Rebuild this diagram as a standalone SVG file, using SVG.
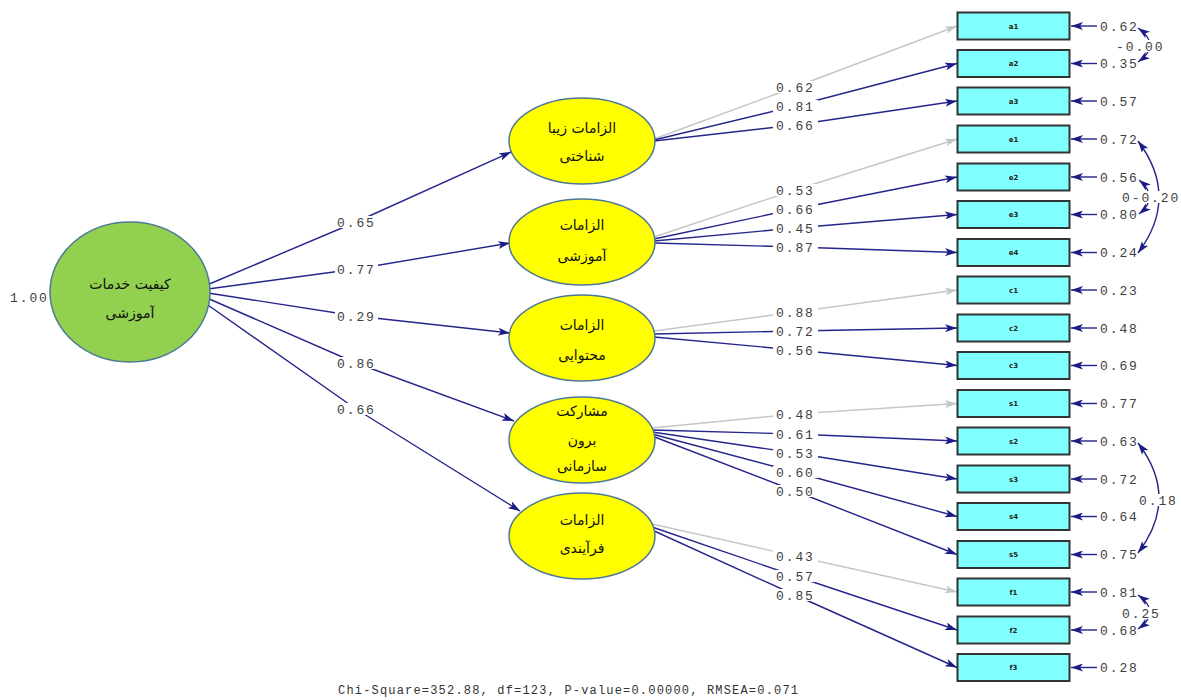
<svg xmlns="http://www.w3.org/2000/svg" width="1181" height="700" viewBox="0 0 1181 700">
<style>
.bg{fill:#ffffff}
.ln{fill:none;stroke:#25258c;stroke-width:1.4}
.lg{fill:none;stroke:#c6c6c6;stroke-width:1.4}
.num{font-family:"Liberation Mono",monospace;font-size:13px;fill:#3e3e3e;letter-spacing:1.9px}
.lbg{fill:#ffffff}
.box{fill:#80ffff;stroke:#333333;stroke-width:2}
.bl{font-family:"DejaVu Sans",sans-serif;font-size:7px;font-weight:bold;fill:#222;text-anchor:middle}
.lat{fill:#ffff00;stroke:#4d7896;stroke-width:1.5}
.gr{fill:#92d050;stroke:#4d7896;stroke-width:1.5}
.fa{font-family:"DejaVu Sans",sans-serif;font-size:14px;fill:#111;text-anchor:middle}
.foot{font-family:"Liberation Mono",monospace;font-size:12px;fill:#333}
</style>
<defs>
<marker id="ah" markerUnits="userSpaceOnUse" markerWidth="12" markerHeight="8" refX="12" refY="4" orient="auto-start-reverse">
<path d="M0,0 L12,4 L0,8 L3,4 z" fill="#1c1c86"/>
</marker>
<marker id="ahg" markerUnits="userSpaceOnUse" markerWidth="12" markerHeight="8" refX="12" refY="4" orient="auto">
<path d="M0,0 L12,4 L0,8 L3,4 z" fill="#c6c6c6"/>
</marker>
</defs>
<rect class="bg" x="0" y="0" width="1181" height="700"/>

<g id="connectors">
<!-- structural paths -->
<path class="ln" marker-end="url(#ah)" d="M207 285 L356 222 L511 152"/>
<path class="ln" marker-end="url(#ah)" d="M208 289 L356 269 L510 243"/>
<path class="ln" marker-end="url(#ah)" d="M208 293 L356 316 L510 333"/>
<path class="ln" marker-end="url(#ah)" d="M207 298 L356 363 L514 421"/>
<path class="ln" marker-end="url(#ah)" d="M205 303 L356 409 L520 511"/>
<!-- measurement paths -->
<path class="lg" marker-end="url(#ahg)" d="M654 139 L795 87 L957 26"/>
<path class="ln" marker-end="url(#ah)" d="M654 140 L795 106 L957 63.5"/>
<path class="ln" marker-end="url(#ah)" d="M654 141 L795 125 L957 101"/>
<path class="lg" marker-end="url(#ahg)" d="M654 237 L795 190 L957 139"/>
<path class="ln" marker-end="url(#ah)" d="M654 239 L795 209 L957 177"/>
<path class="ln" marker-end="url(#ah)" d="M654 241 L795 228 L957 214.5"/>
<path class="ln" marker-end="url(#ah)" d="M654 243 L795 247 L957 252.5"/>
<path class="lg" marker-end="url(#ahg)" d="M654 331 L795 312 L957 290"/>
<path class="ln" marker-end="url(#ah)" d="M654 334 L795 331 L957 328"/>
<path class="ln" marker-end="url(#ah)" d="M654 337 L795 350 L957 365.5"/>
<path class="lg" marker-end="url(#ahg)" d="M652 428 L795 414 L957 403.5"/>
<path class="ln" marker-end="url(#ah)" d="M652 430 L795 434 L957 441"/>
<path class="ln" marker-end="url(#ah)" d="M652 432 L795 453 L957 479"/>
<path class="ln" marker-end="url(#ah)" d="M652 434 L795 472 L957 516.5"/>
<path class="ln" marker-end="url(#ah)" d="M652 436 L795 491 L957 554.5"/>
<path class="lg" marker-end="url(#ahg)" d="M652 524 L795 556 L957 592"/>
<path class="ln" marker-end="url(#ah)" d="M652 527 L795 576 L957 630"/>
<path class="ln" marker-end="url(#ah)" d="M652 530 L795 595 L957 667.5"/>
<!-- error arrows -->
<path class="ln" marker-end="url(#ah)" d="M1097 26 H1071"/>
<path class="ln" marker-end="url(#ah)" d="M1097 63.5 H1071"/>
<path class="ln" marker-end="url(#ah)" d="M1097 101 H1071"/>
<path class="ln" marker-end="url(#ah)" d="M1097 139 H1071"/>
<path class="ln" marker-end="url(#ah)" d="M1097 177 H1071"/>
<path class="ln" marker-end="url(#ah)" d="M1097 214.5 H1071"/>
<path class="ln" marker-end="url(#ah)" d="M1097 252.5 H1071"/>
<path class="ln" marker-end="url(#ah)" d="M1097 290 H1071"/>
<path class="ln" marker-end="url(#ah)" d="M1097 328 H1071"/>
<path class="ln" marker-end="url(#ah)" d="M1097 365.5 H1071"/>
<path class="ln" marker-end="url(#ah)" d="M1097 403.5 H1071"/>
<path class="ln" marker-end="url(#ah)" d="M1097 441 H1071"/>
<path class="ln" marker-end="url(#ah)" d="M1097 479 H1071"/>
<path class="ln" marker-end="url(#ah)" d="M1097 516.5 H1071"/>
<path class="ln" marker-end="url(#ah)" d="M1097 554.5 H1071"/>
<path class="ln" marker-end="url(#ah)" d="M1097 592 H1071"/>
<path class="ln" marker-end="url(#ah)" d="M1097 630 H1071"/>
<path class="ln" marker-end="url(#ah)" d="M1097 667.5 H1071"/>
<!-- covariances -->
<path class="ln" marker-start="url(#ah)" marker-end="url(#ah)" d="M1138 28 Q1162 45 1138 62"/>
<path class="ln" marker-start="url(#ah)" marker-end="url(#ah)" d="M1138 141 Q1180 197 1138 253"/>
<path class="ln" marker-start="url(#ah)" marker-end="url(#ah)" d="M1139 180 Q1160 197 1139 214"/>
<path class="ln" marker-start="url(#ah)" marker-end="url(#ah)" d="M1138 443 Q1180 498 1138 553"/>
<path class="ln" marker-start="url(#ah)" marker-end="url(#ah)" d="M1138 595 Q1162 612 1138 629"/>
</g>

<g id="labels">
<rect class="lbg" x="335" y="216" width="43" height="12"/>
<rect class="lbg" x="335" y="263" width="43" height="12"/>
<rect class="lbg" x="335" y="310" width="43" height="12"/>
<rect class="lbg" x="335" y="357" width="43" height="12"/>
<rect class="lbg" x="335" y="403" width="43" height="12"/>
<text class="num" x="337" y="226.5">0.65</text>
<text class="num" x="337" y="273.5">0.77</text>
<text class="num" x="337" y="320.5">0.29</text>
<text class="num" x="337" y="367.5">0.86</text>
<text class="num" x="337" y="413.5">0.66</text>

<rect class="lbg" x="773" y="81" width="45" height="12"/>
<rect class="lbg" x="773" y="100" width="45" height="12"/>
<rect class="lbg" x="773" y="119" width="45" height="12"/>
<rect class="lbg" x="773" y="184" width="45" height="12"/>
<rect class="lbg" x="773" y="203" width="45" height="12"/>
<rect class="lbg" x="773" y="222" width="45" height="12"/>
<rect class="lbg" x="773" y="241" width="45" height="12"/>
<rect class="lbg" x="773" y="306" width="45" height="12"/>
<rect class="lbg" x="773" y="325" width="45" height="12"/>
<rect class="lbg" x="773" y="344" width="45" height="12"/>
<rect class="lbg" x="773" y="408" width="45" height="12"/>
<rect class="lbg" x="773" y="428" width="45" height="12"/>
<rect class="lbg" x="773" y="447" width="45" height="12"/>
<rect class="lbg" x="773" y="466" width="45" height="12"/>
<rect class="lbg" x="773" y="485" width="45" height="12"/>
<rect class="lbg" x="773" y="550" width="45" height="12"/>
<rect class="lbg" x="773" y="570" width="45" height="12"/>
<rect class="lbg" x="773" y="589" width="45" height="12"/>
<text class="num" x="776" y="91.5">0.62</text>
<text class="num" x="776" y="110.5">0.81</text>
<text class="num" x="776" y="129.5">0.66</text>
<text class="num" x="776" y="194.5">0.53</text>
<text class="num" x="776" y="213.5">0.66</text>
<text class="num" x="776" y="232.5">0.45</text>
<text class="num" x="776" y="251.5">0.87</text>
<text class="num" x="776" y="316.5">0.88</text>
<text class="num" x="776" y="335.5">0.72</text>
<text class="num" x="776" y="354.5">0.56</text>
<text class="num" x="776" y="418.5">0.48</text>
<text class="num" x="776" y="438.5">0.61</text>
<text class="num" x="776" y="457.5">0.53</text>
<text class="num" x="776" y="476.5">0.60</text>
<text class="num" x="776" y="495.5">0.50</text>
<text class="num" x="776" y="560.5">0.43</text>
<text class="num" x="776" y="580.5">0.57</text>
<text class="num" x="776" y="599.5">0.85</text>

<text class="num" x="1100" y="30.5">0.62</text>
<text class="num" x="1100" y="68">0.35</text>
<text class="num" x="1100" y="105.5">0.57</text>
<text class="num" x="1100" y="143.5">0.72</text>
<text class="num" x="1100" y="181.5">0.56</text>
<text class="num" x="1100" y="219">0.80</text>
<text class="num" x="1100" y="257">0.24</text>
<text class="num" x="1100" y="294.5">0.23</text>
<text class="num" x="1100" y="332.5">0.48</text>
<text class="num" x="1100" y="370">0.69</text>
<text class="num" x="1100" y="408">0.77</text>
<text class="num" x="1100" y="445.5">0.63</text>
<text class="num" x="1100" y="483.5">0.72</text>
<text class="num" x="1100" y="521">0.64</text>
<text class="num" x="1100" y="559">0.75</text>
<text class="num" x="1100" y="596.5">0.81</text>
<text class="num" x="1100" y="634.5">0.68</text>
<text class="num" x="1100" y="672">0.28</text>

<rect class="lbg" x="1116" y="40" width="50" height="12"/>
<text class="num" x="1116" y="50.5">-0.00</text>
<rect class="lbg" x="1121" y="191" width="60" height="12"/>
<text class="num" x="1122" y="201.5">0-0.20</text>
<rect class="lbg" x="1137" y="494" width="40" height="12"/>
<text class="num" x="1139" y="504.5">0.18</text>
<rect class="lbg" x="1120" y="607" width="42" height="12"/>
<text class="num" x="1122" y="617.5">0.25</text>

<text class="num" x="10" y="301.5">1.00</text>
<text class="foot" x="338" y="694" textLength="460" lengthAdjust="spacing">Chi-Square=352.88, df=123, P-value=0.00000, RMSEA=0.071</text>
</g>

<g id="node-quality">
<ellipse class="gr" cx="130" cy="292" rx="80" ry="70"/>
<text class="fa" x="130" y="289">کیفیت خدمات</text>
<text class="fa" x="130" y="318">آموزشی</text>
</g>
<g id="node-aesthetic">
<ellipse class="lat" cx="582" cy="141" rx="73" ry="43"/>
<text class="fa" x="582" y="133">الزامات زیبا</text>
<text class="fa" x="582" y="161">شناختی</text>
</g>
<g id="node-educational">
<ellipse class="lat" cx="582" cy="242" rx="73" ry="43"/>
<text class="fa" x="582" y="230">الزامات</text>
<text class="fa" x="582" y="261">آموزشی</text>
</g>
<g id="node-content">
<ellipse class="lat" cx="582" cy="338" rx="73" ry="43"/>
<text class="fa" x="582" y="330">الزامات</text>
<text class="fa" x="582" y="360">محتوایی</text>
</g>
<g id="node-participation">
<ellipse class="lat" cx="582" cy="440" rx="73" ry="43"/>
<text class="fa" x="582" y="416">مشارکت</text>
<text class="fa" x="582" y="445">برون</text>
<text class="fa" x="582" y="471">سازمانی</text>
</g>
<g id="node-process">
<ellipse class="lat" cx="582" cy="536" rx="73" ry="43"/>
<text class="fa" x="582" y="525">الزامات</text>
<text class="fa" x="582" y="553">فرآیندی</text>
</g>

<g id="node-a1"><rect class="box" x="957.5" y="12.5" width="112" height="27"/><text class="bl" x="1013.5" y="28.5">a1</text></g>
<g id="node-a2"><rect class="box" x="957.5" y="50" width="112" height="27"/><text class="bl" x="1013.5" y="66">a2</text></g>
<g id="node-a3"><rect class="box" x="957.5" y="87.5" width="112" height="27"/><text class="bl" x="1013.5" y="103.5">a3</text></g>
<g id="node-e1"><rect class="box" x="957.5" y="125.5" width="112" height="27"/><text class="bl" x="1013.5" y="141.5">e1</text></g>
<g id="node-e2"><rect class="box" x="957.5" y="163.5" width="112" height="27"/><text class="bl" x="1013.5" y="179.5">e2</text></g>
<g id="node-e3"><rect class="box" x="957.5" y="201" width="112" height="27"/><text class="bl" x="1013.5" y="217">e3</text></g>
<g id="node-e4"><rect class="box" x="957.5" y="239" width="112" height="27"/><text class="bl" x="1013.5" y="255">e4</text></g>
<g id="node-c1"><rect class="box" x="957.5" y="276.5" width="112" height="27"/><text class="bl" x="1013.5" y="292.5">c1</text></g>
<g id="node-c2"><rect class="box" x="957.5" y="314.5" width="112" height="27"/><text class="bl" x="1013.5" y="330.5">c2</text></g>
<g id="node-c3"><rect class="box" x="957.5" y="352" width="112" height="27"/><text class="bl" x="1013.5" y="368">c3</text></g>
<g id="node-s1"><rect class="box" x="957.5" y="390" width="112" height="27"/><text class="bl" x="1013.5" y="406">s1</text></g>
<g id="node-s2"><rect class="box" x="957.5" y="427.5" width="112" height="27"/><text class="bl" x="1013.5" y="443.5">s2</text></g>
<g id="node-s3"><rect class="box" x="957.5" y="465.5" width="112" height="27"/><text class="bl" x="1013.5" y="481.5">s3</text></g>
<g id="node-s4"><rect class="box" x="957.5" y="503" width="112" height="27"/><text class="bl" x="1013.5" y="519">s4</text></g>
<g id="node-s5"><rect class="box" x="957.5" y="541" width="112" height="27"/><text class="bl" x="1013.5" y="557">s5</text></g>
<g id="node-f1"><rect class="box" x="957.5" y="578.5" width="112" height="27"/><text class="bl" x="1013.5" y="594.5">f1</text></g>
<g id="node-f2"><rect class="box" x="957.5" y="616.5" width="112" height="27"/><text class="bl" x="1013.5" y="632.5">f2</text></g>
<g id="node-f3"><rect class="box" x="957.5" y="654" width="112" height="27"/><text class="bl" x="1013.5" y="670">f3</text></g>
</svg>
